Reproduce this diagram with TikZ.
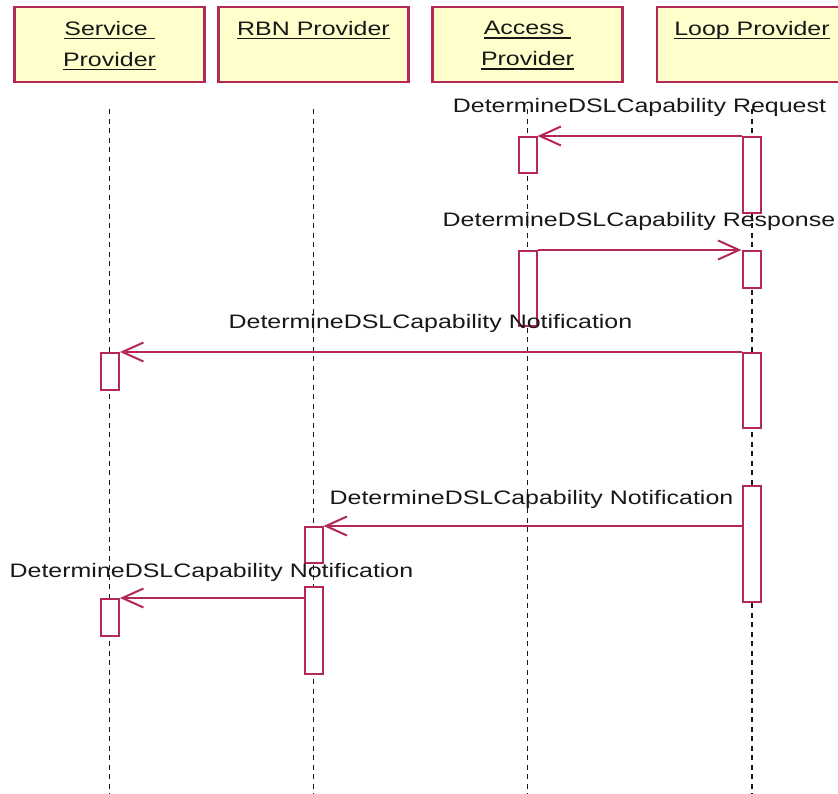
\documentclass[tikz,border=0pt]{standalone}
\usepackage{fontspec}
\newfontfamily\rosefont{Liberation Sans}[FakeStretch=1.28]
\newcommand\ulname[1]{\setbox0=\hbox{#1}\rlap{\rule[-4.2pt]{\wd0}{1.6pt}}\box0}
\usetikzlibrary{arrows.meta,positioning}
\definecolor{rosered}{RGB}{180,40,85}
\definecolor{roseyellow}{RGB}{255,255,204}
\definecolor{inkgray}{RGB}{24,24,24}
\tikzset{
  seqtext/.style = {inner sep=0pt, text=inkgray, align=center,
    font=\rosefont\fontsize{19.5}{31}\selectfont},
  seq_obj/.style = {rectangle, draw=rosered, fill=roseyellow, line width=2.2pt,
    minimum width=190pt, minimum height=75pt},% object box
  seq_name/.style = {seqtext, anchor=north},% object name
  seq_life/.style = {draw=inkgray, line width=1.8pt,
    dash pattern=on 5pt off 4.5pt},% lifeline
  seq_act/.style = {rectangle, draw=rosered, fill=white, line width=2pt,
    minimum width=18pt, inner sep=0pt},% activation
  seq_msg/.style = {->, draw=rosered, line width=2pt},% message
  seq_lbl/.style = {seqtext, anchor=base}% message label
}

\begin{document}
\begin{tikzpicture}[x=1pt, y=-1pt, >={Straight Barb[length=21pt,width=19pt]}]
\fill[white] (0,0) rectangle (838,794);
\useasboundingbox (0,0) rectangle (838,794);
\clip (0,0) rectangle (838,794);
\coordinate (bot) at (0,794);

% objects
\node[seq_obj] (svc) at (109.5,44.5) {};
\node[seq_obj] (rbn) at (313.5,44.5) {};
\node[seq_obj] (acc) at (527.5,44.5) {};
\node[seq_obj] (loop) at (752,44.5) {};
\node[seq_name] (svcN) at ([yshift=-15pt]svc.north) {\ulname{Service\ }\\\ulname{Provider}};
\node[seq_name] (rbnN) at ([yshift=-15pt]rbn.north) {\ulname{RBN Provider}};
\node[seq_name] (accN) at ([yshift=-15pt]acc.north) {\ulname{Access\ }\\\ulname{Provider}};
\node[seq_name] (loopN) at ([yshift=-15pt]loop.north) {\ulname{Loop Provider}};

% lifelines
\foreach \obj in {svc,rbn,acc,loop}
  \draw[seq_life] ([yshift=-26pt]\obj.south) -- (\obj.south |- bot);

% activations
\node[seq_act, minimum height=36pt] (accA) at (527.5,155) {};
\node[seq_act, minimum height=76pt] (loopA) at (751.5,175) {};
\node[seq_act, minimum height=75pt] (accB) at (527.5,288.5) {};
\node[seq_act, minimum height=37pt] (loopB) at (751.5,269.5) {};
\node[seq_act, minimum height=37pt] (svcA) at (110,371.5) {};
\node[seq_act, minimum height=75pt] (loopC) at (751.5,390.5) {};
\node[seq_act, minimum height=116pt] (loopD) at (751.5,544) {};
\node[seq_act, minimum height=36pt] (rbnA) at (313.5,545) {};
\node[seq_act, minimum height=87pt] (rbnB) at (313.5,630.5) {};
\node[seq_act, minimum height=37pt] (svcB) at (110,617.5) {};

% messages
\draw[seq_msg] (loopA.north west) -- (accA.north east);
\draw[seq_msg] (accB.north east) -- (loopB.north west);
\draw[seq_msg] (loopC.north west) -- (svcA.north east);
\draw[seq_msg] (rbnA.north east -| loopD.west) -- (rbnA.north east);
\draw[seq_msg] (svcB.north east -| rbnB.west) -- (svcB.north east);

% labels
\node[seq_lbl] (lblA) at (639.5,113) {DetermineDSLCapability Request};
\node[seq_lbl] (lblB) at (639,227) {DetermineDSLCapability Response};
\node[seq_lbl] (lblC) at (430.5,329) {DetermineDSLCapability Notification};
\node[seq_lbl] (lblD) at (531.5,504) {DetermineDSLCapability Notification};
\node[seq_lbl] (lblE) at (211.5,577) {DetermineDSLCapability Notification};
\end{tikzpicture}
\end{document}
